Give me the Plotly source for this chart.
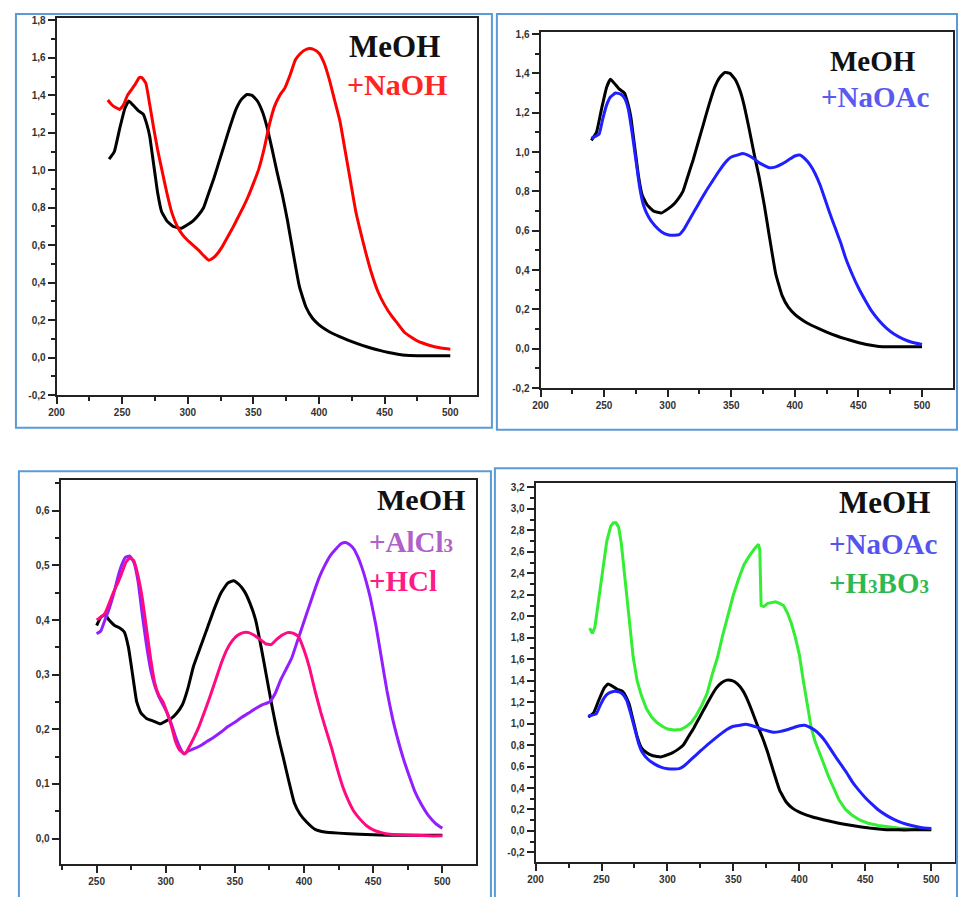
import plotly.graph_objects as go

# ---------------------------------------------------------------------------
# UV spectra (wavelength in nm, absorbance)
# ---------------------------------------------------------------------------

# Methanol spectrum (panels 1, 2 and 4)
meoh_wl = [240, 244, 248, 252, 255, 258, 262, 266, 269, 271, 273, 275, 277, 280, 284,
           289, 295, 300, 304, 308, 312, 316, 320, 324, 328, 332, 337, 341, 345, 349,
           353, 357, 360, 364, 368, 372, 376, 380, 385, 390, 395, 400, 405, 410, 418,
           425, 433, 440, 447, 453, 460, 466, 475, 485, 500]
meoh_abs = [1.06, 1.10, 1.22, 1.33, 1.37, 1.35, 1.32, 1.30, 1.24, 1.18, 1.08, 0.98, 0.88,
            0.78, 0.73, 0.70, 0.69, 0.71, 0.73, 0.76, 0.80, 0.88, 0.96, 1.05, 1.14, 1.23,
            1.33, 1.38, 1.405, 1.40, 1.37, 1.31, 1.24, 1.12, 0.99, 0.87, 0.73, 0.57, 0.38,
            0.27, 0.21, 0.175, 0.15, 0.13, 0.105, 0.085, 0.065, 0.05, 0.037, 0.027, 0.018,
            0.012, 0.01, 0.01, 0.01]

# + NaOH
naoh_wl = [239, 242, 245, 248, 251, 254, 257, 260, 263, 265, 268, 271, 274, 277, 280, 284,
           288, 292, 296, 300, 304, 308, 312, 316, 319, 322, 326, 330, 334, 338, 342, 346,
           350, 354, 358, 362, 366, 370, 374, 378, 382, 386, 390, 393, 396, 400, 404, 408,
           412, 416, 420, 424, 428, 432, 436, 440, 445, 450, 455, 460, 465, 470, 476, 482,
           488, 494, 500]
naoh_abs = [1.375, 1.35, 1.335, 1.325, 1.35, 1.40, 1.43, 1.46, 1.495, 1.495, 1.465, 1.35,
            1.225, 1.11, 1.01, 0.88, 0.77, 0.70, 0.655, 0.625, 0.60, 0.575, 0.545, 0.52,
            0.53, 0.55, 0.59, 0.64, 0.69, 0.745, 0.80, 0.86, 0.93, 1.005, 1.11, 1.24, 1.34,
            1.40, 1.44, 1.51, 1.59, 1.625, 1.645, 1.65, 1.645, 1.625, 1.57, 1.48, 1.37,
            1.26, 1.10, 0.94, 0.78, 0.66, 0.55, 0.45, 0.35, 0.28, 0.225, 0.18, 0.135, 0.11,
            0.085, 0.07, 0.058, 0.05, 0.045]

# + NaOAc (panels 2 and 4)
naoac_wl = [240, 243, 246, 249, 252, 255, 259, 263, 266, 269, 272, 275, 278, 281, 285, 290,
            295, 300, 305, 309, 313, 317, 321, 325, 330, 335, 340, 345, 350, 355, 359, 363,
            367, 371, 375, 380, 385, 390, 395, 400, 404, 408, 412, 416, 420, 424, 428, 432,
            436, 440, 445, 450, 455, 460, 466, 472, 478, 485, 492, 500]
naoac_abs = [1.07, 1.08, 1.09, 1.17, 1.24, 1.28, 1.30, 1.295, 1.275, 1.22, 1.10, 0.96, 0.82,
             0.73, 0.67, 0.625, 0.595, 0.58, 0.577, 0.58, 0.61, 0.655, 0.70, 0.745, 0.80,
             0.85, 0.90, 0.945, 0.975, 0.985, 0.993, 0.985, 0.97, 0.95, 0.935, 0.92, 0.925,
             0.94, 0.96, 0.98, 0.985, 0.965, 0.935, 0.89, 0.83, 0.755, 0.68, 0.61, 0.54,
             0.46, 0.38, 0.31, 0.25, 0.195, 0.145, 0.105, 0.075, 0.05, 0.033, 0.022]

# Methanol spectrum measured for the AlCl3 / HCl series (panel 3)
meoh3_wl = [250, 253, 256, 259, 263, 267, 270, 273, 276, 279, 282, 286, 291, 296, 300, 304,
            308, 312, 316, 320, 325, 330, 335, 340, 345, 349, 353, 357, 361, 365, 369, 373,
            377, 381, 385, 389, 393, 397, 402, 408, 415, 425, 440, 460, 480, 500]
meoh3_abs = [0.39, 0.405, 0.41, 0.40, 0.39, 0.385, 0.378, 0.35, 0.30, 0.25, 0.23, 0.22,
             0.215, 0.21, 0.215, 0.22, 0.23, 0.245, 0.275, 0.315, 0.35, 0.385, 0.42, 0.45,
             0.468, 0.472, 0.465, 0.452, 0.43, 0.40, 0.35, 0.295, 0.24, 0.19, 0.148, 0.105,
             0.065, 0.045, 0.03, 0.017, 0.012, 0.01, 0.008, 0.006, 0.006, 0.006]

# + AlCl3
alcl3_wl = [250, 253, 256, 259, 262, 265, 268, 271, 274, 277, 280, 283, 286, 289, 292, 295,
            298, 301, 304, 307, 310, 313, 316, 320, 325, 330, 335, 340, 345, 350, 355, 360,
            365, 370, 375, 379, 383, 387, 391, 395, 399, 403, 407, 411, 415, 419, 423, 427,
            430, 433, 436, 439, 442, 445, 448, 452, 456, 460, 464, 468, 472, 476, 480, 485,
            490, 495, 500]
alcl3_abs = [0.375, 0.38, 0.40, 0.42, 0.445, 0.475, 0.50, 0.515, 0.517, 0.505, 0.47, 0.41,
             0.355, 0.31, 0.28, 0.26, 0.245, 0.23, 0.21, 0.187, 0.168, 0.155, 0.16, 0.164,
             0.17, 0.178, 0.186, 0.195, 0.205, 0.213, 0.222, 0.23, 0.238, 0.245, 0.25,
             0.265, 0.29, 0.31, 0.33, 0.36, 0.39, 0.42, 0.45, 0.478, 0.50, 0.518, 0.53,
             0.54, 0.542, 0.538, 0.53, 0.515, 0.495, 0.47, 0.44, 0.39, 0.33, 0.27, 0.22,
             0.18, 0.145, 0.115, 0.087, 0.062, 0.042, 0.028, 0.019]

# + AlCl3 + HCl
hcl_wl = [250, 253, 256, 259, 262, 265, 268, 271, 274, 277, 280, 283, 286, 289, 292, 295,
          298, 301, 304, 307, 310, 314, 317, 320, 324, 328, 332, 336, 340, 344, 348, 352,
          356, 360, 364, 368, 372, 376, 380, 384, 388, 392, 396, 400, 404, 408, 412, 416,
          420, 424, 428, 432, 436, 440, 445, 450, 456, 462, 470, 480, 490, 500]
hcl_abs = [0.40, 0.405, 0.412, 0.43, 0.45, 0.466, 0.485, 0.505, 0.514, 0.508, 0.48, 0.44,
           0.385, 0.33, 0.285, 0.262, 0.25, 0.23, 0.207, 0.178, 0.162, 0.155, 0.168, 0.183,
           0.205, 0.232, 0.26, 0.29, 0.32, 0.345, 0.362, 0.372, 0.377, 0.377, 0.372, 0.365,
           0.357, 0.355, 0.364, 0.372, 0.377, 0.376, 0.37, 0.345, 0.312, 0.27, 0.232, 0.198,
           0.165, 0.128, 0.095, 0.07, 0.05, 0.037, 0.024, 0.016, 0.011, 0.008, 0.007, 0.006,
           0.005, 0.005]

# + NaOAc + H3BO3
h3bo3_wl = [241, 243, 245, 247, 249, 251, 254, 257, 259, 261, 263, 265, 267, 269, 271, 274,
            277, 280, 284, 288, 292, 296, 300, 305, 310, 314, 318, 322, 326, 330, 334, 338,
            342, 346, 350, 354, 358, 362, 366, 369, 370, 371, 373, 376, 379, 382, 385, 388,
            391, 394, 397, 400, 403, 406, 409, 412, 415, 418, 422, 426, 430, 435, 440, 446,
            452, 460, 468, 476, 485, 492, 500]
h3bo3_abs = [1.89, 1.84, 1.90, 2.08, 2.25, 2.45, 2.70, 2.84, 2.87, 2.87, 2.83, 2.68, 2.45,
             2.20, 1.95, 1.62, 1.40, 1.27, 1.14, 1.06, 1.01, 0.975, 0.95, 0.94, 0.945, 0.97,
             1.01, 1.08, 1.17, 1.28, 1.46, 1.62, 1.83, 2.02, 2.20, 2.35, 2.48, 2.56, 2.63,
             2.67, 2.62, 2.10, 2.09, 2.12, 2.13, 2.135, 2.12, 2.10, 2.03, 1.93, 1.80, 1.64,
             1.40, 1.18, 0.96, 0.83, 0.74, 0.64, 0.51, 0.40, 0.29, 0.20, 0.145, 0.10, 0.072,
             0.05, 0.035, 0.025, 0.018, 0.013, 0.01]

# Axis tick values and labels (comma decimal separator)
x_ticks_a = [200, 250, 300, 350, 400, 450, 500]
x_labels_a = ["200", "250", "300", "350", "400", "450", "500"]
x_ticks_b = [250, 300, 350, 400, 450, 500]
x_labels_b = ["250", "300", "350", "400", "450", "500"]
y_ticks_1 = [-0.2, 0.0, 0.2, 0.4, 0.6, 0.8, 1.0, 1.2, 1.4, 1.6, 1.8]
y_labels_1 = ["-0,2", "0,0", "0,2", "0,4", "0,6", "0,8", "1,0", "1,2", "1,4", "1,6", "1,8"]
y_ticks_2 = [-0.2, 0.0, 0.2, 0.4, 0.6, 0.8, 1.0, 1.2, 1.4, 1.6]
y_labels_2 = ["-0,2", "0,0", "0,2", "0,4", "0,6", "0,8", "1,0", "1,2", "1,4", "1,6"]
y_ticks_3 = [0.0, 0.1, 0.2, 0.3, 0.4, 0.5, 0.6]
y_labels_3 = ["0,0", "0,1", "0,2", "0,3", "0,4", "0,5", "0,6"]
y_ticks_4 = [-0.2, 0.0, 0.2, 0.4, 0.6, 0.8, 1.0, 1.2, 1.4, 1.6, 1.8, 2.0, 2.2, 2.4, 2.6,
             2.8, 3.0, 3.2]
y_labels_4 = ["-0,2", "0,0", "0,2", "0,4", "0,6", "0,8", "1,0", "1,2", "1,4", "1,6", "1,8",
              "2,0", "2,2", "2,4", "2,6", "2,8", "3,0", "3,2"]

# ---------------------------------------------------------------------------
W, H = 958, 897


def px_x(v):
    return v / W


def px_y(v):
    return 1 - v / H


BLACK = "#000000"
RED = "#ff0000"
BLUE = "#1f1fff"
VIOLET = "#931fff"
PINK = "#ff0a80"
GREEN = "#33ee33"

fig = go.Figure()


def add_line(x, y, color, axis, shape="spline"):
    fig.add_trace(go.Scatter(x=x, y=y, mode="lines",
                             line=dict(color=color, width=3, shape=shape, smoothing=0.4),
                             xaxis="x" + axis, yaxis="y" + axis, hoverinfo="skip"))


# Panel 1: MeOH / NaOH
add_line(meoh_wl, meoh_abs, BLACK, "")
add_line(naoh_wl, naoh_abs, RED, "")
# Panel 2: MeOH / NaOAc
add_line(meoh_wl, meoh_abs, BLACK, "2")
add_line(naoac_wl, naoac_abs, BLUE, "2")
# Panel 3: MeOH / AlCl3 / HCl
add_line(meoh3_wl, meoh3_abs, BLACK, "3")
add_line(alcl3_wl, alcl3_abs, VIOLET, "3")
add_line(hcl_wl, hcl_abs, PINK, "3")
# Panel 4: MeOH / NaOAc / H3BO3 (the H3BO3 trace keeps its sharp step at 370 nm)
add_line(h3bo3_wl, h3bo3_abs, GREEN, "4", shape="linear")
add_line(meoh_wl, meoh_abs, BLACK, "4")
add_line(naoac_wl, naoac_abs, BLUE, "4")

tick_font = dict(family="Liberation Sans, Arial", size=10, color="#333333", weight="bold")


def x_axis(domain, rng, vals, labels, anchor, minor0):
    return dict(domain=domain, range=rng, anchor=anchor, tickmode="array", tickvals=vals,
                ticktext=labels, ticks="outside", ticklen=7, tickwidth=1.5,
                tickcolor="#222222", showline=True, linecolor="#222222", linewidth=2,
                mirror=True, showgrid=False, zeroline=False, tickfont=tick_font,
                minor=dict(tickmode="linear", tick0=minor0, dtick=25, ticks="outside",
                           ticklen=4, tickwidth=1.5, tickcolor="#222222", showgrid=False))


def y_axis(domain, rng, vals, labels, anchor, mdt):
    return dict(domain=domain, range=rng, anchor=anchor, tickmode="array", tickvals=vals,
                ticktext=labels, ticks="outside", ticklen=7, tickwidth=1.5,
                tickcolor="#222222", showline=True, linecolor="#222222", linewidth=2,
                mirror=True, showgrid=False, zeroline=False, tickfont=tick_font,
                minor=dict(tickmode="linear", tick0=0, dtick=mdt, ticks="outside",
                           ticklen=4, tickwidth=1.5, tickcolor="#222222", showgrid=False))


layout = dict(
    width=W, height=H, margin=dict(l=0, r=0, t=0, b=0),
    paper_bgcolor="white", plot_bgcolor="white", showlegend=False, hovermode=False,
    xaxis=x_axis([px_x(49), px_x(473)], [200, 520.4], x_ticks_a, x_labels_a, "y", 225),
    yaxis=y_axis([px_y(396), px_y(15)], [-0.2, 1.814], y_ticks_1, y_labels_1, "x", 0.1),
    xaxis2=x_axis([px_x(537), px_x(953)], [200, 524.4], x_ticks_a, x_labels_a, "y2", 225),
    yaxis2=y_axis([px_y(389), px_y(29)], [-0.2, 1.612], y_ticks_2, y_labels_2, "x2", 0.1),
    xaxis3=x_axis([px_x(53), px_x(472)], [223.9, 524.4], x_ticks_b, x_labels_b, "y3", 225),
    yaxis3=y_axis([px_y(870), px_y(482)], [-0.047, 0.656], y_ticks_3, y_labels_3, "x3", 0.05),
    xaxis4=x_axis([px_x(532), px_x(955)], [200, 518], x_ticks_a, x_labels_a, "y4", 225),
    yaxis4=y_axis([px_y(868), px_y(485)], [-0.292, 3.24], y_ticks_4, y_labels_4, "x4", 0.1),
)
fig.update_layout(**layout)

# Blue frames around each panel
BORDER = "#5b9bd5"
for x0, y0, x1, y1 in [(8, 11, 488, 429), (493, 11, 957, 431),
                       (11, 473, 487, 910), (491, 470, 957, 910)]:
    fig.add_shape(type="rect", xref="paper", yref="paper",
                  x0=px_x(x0), x1=px_x(x1), y0=px_y(y1), y1=px_y(y0),
                  line=dict(color=BORDER, width=2), fillcolor="rgba(0,0,0,0)", layer="above")

# Solvent / reagent labels
SUB = '<span style="font-size:19px">3</span>'
labels = [
    (343, 44, "MeOH", "#111111", 31),
    (341, 82, "+NaOH", "#ff2525", 30),
    (828, 59, "MeOH", "#111111", 29),
    (819, 95, "+NaOAc", "#5a5af0", 29),
    (371, 502, "MeOH", "#111111", 30),
    (363, 544, "+AlCl" + SUB, "#b060c8", 29),
    (363, 584, "+HCl", "#ff1a85", 29),
    (837, 505, "MeOH", "#111111", 31),
    (827, 546, "+NaOAc", "#5555ee", 29),
    (827, 586, "+H" + SUB + "BO" + SUB, "#2fb84f", 29),
]
for x, y, text, color, size in labels:
    fig.add_annotation(x=px_x(x), y=px_y(y), xref="paper", yref="paper", xanchor="left",
                       yanchor="middle", showarrow=False, text="<b>" + text + "</b>",
                       font=dict(family="Liberation Serif, Times New Roman", size=size,
                                 color=color), borderpad=0)

fig.write_html("out.html")
